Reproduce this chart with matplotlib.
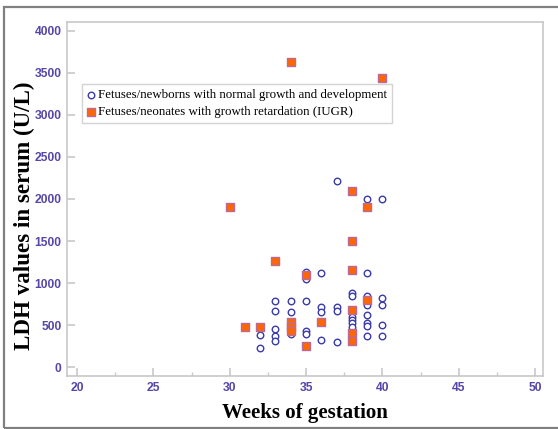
import matplotlib
matplotlib.use("Agg")
import matplotlib.pyplot as plt
import matplotlib.patches as patches
from matplotlib.ticker import MultipleLocator

# weeks of gestation / LDH (U/L)
normal_weeks = [32, 32,
                33, 33, 33, 33, 33,
                34, 34, 34,
                35, 35, 35, 35, 35,
                36, 36, 36, 36,
                37, 37, 37, 37,
                38, 38, 38, 38, 38, 38,
                39, 39, 39, 39, 39, 39, 39, 39,
                40, 40, 40, 40, 40]
normal_ldh = [380, 225,
              780, 670, 455, 375, 315,
              780, 650, 390,
              1130, 1050, 780, 430, 395,
              1120, 720, 660, 320,
              2210, 720, 670, 300,
              880, 840, 600, 560, 520, 480,
              2000, 1120, 840, 740, 620, 520, 490, 375,
              2000, 820, 740, 505, 365]

iugr_weeks = [30, 31, 32, 33,
              34, 34, 34, 34,
              35, 35, 36,
              38, 38, 38, 38, 38, 38,
              39, 39, 40]
iugr_ldh = [1910, 480, 480, 1260,
            3630, 540, 480, 430,
            1100, 250, 540,
            2100, 1500, 1150, 680, 400, 310,
            1910, 800, 3440]

normal_label = "Fetuses/newborns with normal growth and development"
iugr_label = "Fetuses/neonates with growth retardation (IUGR)"

tick_col = "#5546a8"
frame_col = "#c8c8c8"

fig = plt.figure(figsize=(5.58, 4.29), dpi=100)
ax = fig.add_axes([67 / 558, 53 / 429, 476 / 558, 354 / 429])

ax.scatter(normal_weeks, normal_ldh, s=22, marker="o", facecolors="white",
           edgecolors="#3a3aa8", linewidths=1.0, label=normal_label, zorder=3)
ax.scatter(iugr_weeks, iugr_ldh, s=30, marker="s", facecolors="#ff6600",
           edgecolors="#b86a9a", linewidths=1.0, label=iugr_label, zorder=4)

ax.set_xlim(19.345, 50.52)
ax.set_ylim(-107, 4107)
ax.xaxis.set_major_locator(MultipleLocator(5))
ax.xaxis.set_minor_locator(MultipleLocator(2.5))
ax.yaxis.set_major_locator(MultipleLocator(500))

for sp in ax.spines.values():
    sp.set_color(frame_col)
    sp.set_linewidth(1.2)

ax.tick_params(which="major", direction="in", length=6, width=1.2, color=frame_col,
               labelcolor=tick_col, labelsize=8.7, pad=4)
ax.tick_params(which="minor", direction="in", length=3, width=1.0, color=frame_col)
for lab in ax.get_xticklabels() + ax.get_yticklabels():
    lab.set_fontfamily("Liberation Sans")
    lab.set_fontweight("bold")

ax.set_xlabel("Weeks of gestation", fontfamily="Liberation Serif", fontweight="bold",
              fontsize=15, labelpad=7)
ax.set_ylabel("LDH values in serum (U/L)", fontfamily="Liberation Serif",
              fontweight="bold", fontsize=16.6)
ax.yaxis.set_label_coords(-0.068, 0.452)

leg = ax.legend(loc="upper left", bbox_to_anchor=(0.0315, 0.825), borderaxespad=0,
                prop={"family": "Liberation Serif", "size": 9.3}, frameon=True,
                fancybox=False, edgecolor=frame_col, handletextpad=0.25,
                handlelength=0.6, borderpad=0.38, labelspacing=0.4)
leg.get_frame().set_linewidth(1.0)

# outer border of the picture
fig.add_artist(patches.Rectangle((4 / 558, 1 / 429), 1.0, 421 / 429,
                                 transform=fig.transFigure, fill=False,
                                 edgecolor="#808080", linewidth=1.6))

fig.savefig("out.png", dpi=100)
